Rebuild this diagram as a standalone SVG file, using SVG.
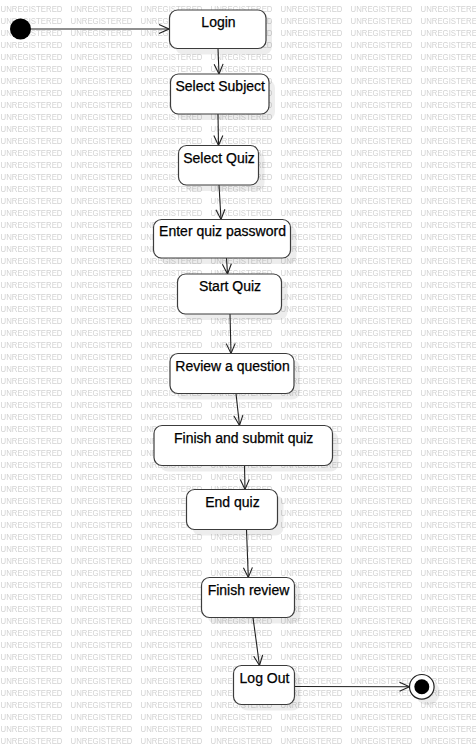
<svg xmlns="http://www.w3.org/2000/svg" width="476" height="746" viewBox="0 0 476 746">
<style>
.wm{font-family:"Liberation Sans",Arial,sans-serif;font-size:9px;fill:#d2d2d2;}
.box{fill:#fff;stroke:#3c3c3c;stroke-width:1.2;}
.shd{fill:#000;fill-opacity:0.07;}
.lbl{font-family:"Liberation Sans",Arial,sans-serif;font-size:14px;fill:#000;stroke:#000;stroke-width:0.25;text-anchor:middle;}
.edge{fill:none;stroke:#202020;stroke-width:1.1;}
</style>
<defs>
<pattern id="wmp" x="0" y="0" width="70" height="12" patternUnits="userSpaceOnUse">
<text class="wm" x="0.5" y="11.5" textLength="62" lengthAdjust="spacingAndGlyphs">UNREGISTERED</text>
</pattern>
<marker id="arr" viewBox="0 0 12 12" refX="11" refY="6" markerWidth="12" markerHeight="12" markerUnits="userSpaceOnUse" orient="auto">
<path d="M1,1.5 L11,6 L1,10.5" fill="none" stroke="#202020" stroke-width="1.1"/>
</marker>
</defs>
<rect x="0" y="0" width="476" height="746" fill="#fff"/>
<rect x="0" y="0" width="476" height="746" fill="url(#wmp)"/>

<g id="connectors">
<path class="edge" d="M31,29 L169,29" marker-end="url(#arr)"/>
<path class="edge" d="M218,48.5 L219,74" marker-end="url(#arr)"/>
<path class="edge" d="M218,114 L218.5,145.5" marker-end="url(#arr)"/>
<path class="edge" d="M219,185 L221,219.5" marker-end="url(#arr)"/>
<path class="edge" d="M226.5,258 L227.5,274" marker-end="url(#arr)"/>
<path class="edge" d="M230,314 L231,353.5" marker-end="url(#arr)"/>
<path class="edge" d="M236,393.5 L239.5,425.5" marker-end="url(#arr)"/>
<path class="edge" d="M244.5,465.5 L245,489.5" marker-end="url(#arr)"/>
<path class="edge" d="M246.5,529.5 L248.3,577.5" marker-end="url(#arr)"/>
<path class="edge" d="M253,617.5 L259.5,665.5" marker-end="url(#arr)"/>
<path class="edge" d="M294.5,686.5 L409.5,686.8" marker-end="url(#arr)"/>
</g>

<g id="start">
<circle cx="20.5" cy="29" r="10.5" fill="#000"/>
</g>

<g id="login">
<rect class="shd" x="175.5" y="16" width="96.5" height="38.5" rx="8"/>
<rect class="box" x="169.5" y="10" width="96.5" height="38.5" rx="8"/>
<text class="lbl" x="218.5" y="26.8">Login</text>
</g>

<g id="select-subject">
<rect class="shd" x="176.5" y="80" width="98.5" height="40" rx="8"/>
<rect class="box" x="170.5" y="74" width="98.5" height="40" rx="8"/>
<text class="lbl" x="220.2" y="91">Select Subject</text>
</g>

<g id="select-quiz">
<rect class="shd" x="184.5" y="151.5" width="80" height="39.5" rx="8"/>
<rect class="box" x="178.5" y="145.5" width="80" height="39.5" rx="8"/>
<text class="lbl" x="219" y="162.5">Select Quiz</text>
</g>

<g id="enter-quiz-password">
<rect class="shd" x="159.5" y="225.5" width="137" height="38.5" rx="8"/>
<rect class="box" x="153.5" y="219.5" width="137" height="38.5" rx="8"/>
<text class="lbl" x="222.5" y="235.5">Enter quiz password</text>
</g>

<g id="start-quiz">
<rect class="shd" x="183.5" y="280" width="104" height="40" rx="8"/>
<rect class="box" x="177.5" y="274" width="104" height="40" rx="8"/>
<text class="lbl" x="230" y="291">Start Quiz</text>
</g>

<g id="review-question">
<rect class="shd" x="176" y="359.5" width="124" height="40" rx="8"/>
<rect class="box" x="170" y="353.5" width="124" height="40" rx="8"/>
<text class="lbl" x="232.5" y="371">Review a question</text>
</g>

<g id="finish-submit-quiz">
<rect class="shd" x="160" y="431.5" width="178.5" height="40" rx="8"/>
<rect class="box" x="154" y="425.5" width="178.5" height="40" rx="8"/>
<text class="lbl" x="243.7" y="443.3">Finish and submit quiz</text>
</g>

<g id="end-quiz">
<rect class="shd" x="192.5" y="495.5" width="91" height="40" rx="8"/>
<rect class="box" x="186.5" y="489.5" width="91" height="40" rx="8"/>
<text class="lbl" x="232.5" y="507">End quiz</text>
</g>

<g id="finish-review">
<rect class="shd" x="207.5" y="583.5" width="93" height="40" rx="8"/>
<rect class="box" x="201.5" y="577.5" width="93" height="40" rx="8"/>
<text class="lbl" x="248.5" y="595">Finish review</text>
</g>

<g id="log-out">
<rect class="shd" x="239.5" y="671.5" width="61" height="39" rx="8"/>
<rect class="box" x="233.5" y="665.5" width="61" height="39" rx="8"/>
<text class="lbl" x="264.5" y="683.3">Log Out</text>
</g>

<g id="end">
<circle cx="427.5" cy="692.5" r="12.3" class="shd"/>
<circle cx="421.8" cy="686.8" r="12.3" fill="#fff" stroke="#202020" stroke-width="1.2"/>
<circle cx="421.8" cy="686.8" r="7.5" fill="#000"/>
</g>
</svg>
